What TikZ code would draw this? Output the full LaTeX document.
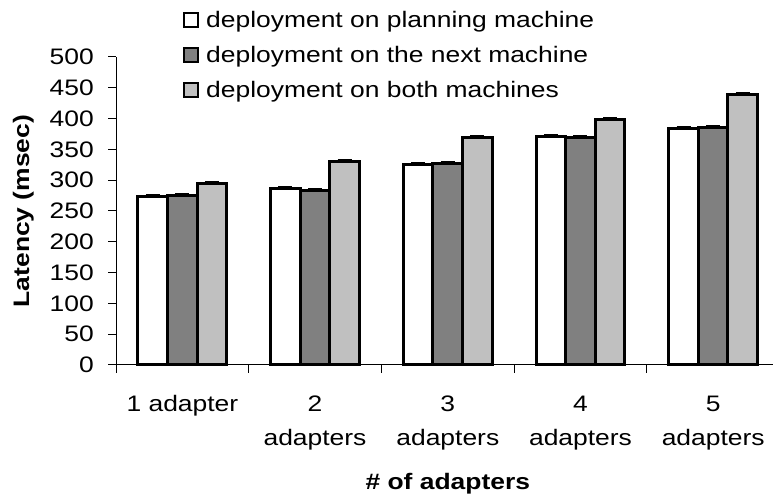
\documentclass[tikz,border=0pt]{standalone}
\usepackage{fontspec}
\setmainfont[FakeStretch=1.18]{Liberation Sans}
\definecolor{darkbar}{HTML}{808080}
\definecolor{lightbar}{HTML}{C0C0C0}

\begin{document}
\begin{tikzpicture}[x=1pt,y=1pt,
  font=\fontsize{22.4}{34}\selectfont,
  bar/.style={draw=black,line width=3pt},
  whisker/.style={line width=2pt},
  axis/.style={line width=1pt},
  key/.style={draw=black,line width=2.5pt,minimum size=14pt,inner sep=0pt},
  catlabel/.style={align=center,anchor=base,inner sep=0pt}]
\useasboundingbox (0,0) rectangle (773,497);

% axes
\draw[axis] (116,132) -- (116,440);
\draw[axis] (116,132) -- (773,132);
\foreach \v in {0,50,...,500} {
  \draw[axis] (108,{132+0.616*\v}) -- (116,{132+0.616*\v});
  \node (y\v) at (94,{132+0.616*\v}) [anchor=east,inner sep=0pt] {\v};
}
\foreach \i in {0,...,4}
  \draw[axis] ({116+132.7*\i},132) -- ({116+132.7*\i},124);

% bars
\foreach \g/\a/\b/\c in {1/274/275/294,2/286/284/331,3/325/327/370,4/371/369/399,5/384/385/439} {
  \pgfmathsetmacro\cx{116+132.7*(\g-0.5)}
  \draw[bar,fill=white]    (\cx-44.4,132) rectangle (\cx-14.8,{132+0.616*\a});
  \draw[bar,fill=darkbar]  (\cx-14.8,132) rectangle (\cx+14.8,{132+0.616*\b});
  \draw[bar,fill=lightbar] (\cx+14.8,132) rectangle (\cx+44.4,{132+0.616*\c});
  \draw[whisker] (\cx-36.6,{133.5+0.616*\a}) -- (\cx-22.6,{133.5+0.616*\a});
  \draw[whisker] (\cx-7,{133.5+0.616*\b}) -- (\cx+7,{133.5+0.616*\b});
  \draw[whisker] (\cx+22.6,{133.5+0.616*\c}) -- (\cx+36.6,{133.5+0.616*\c});
}

% category labels
\node (cat1) at (182.4,85) [catlabel] {1 adapter};
\node (cat2) at (315.0,51) [catlabel] {2\\adapters};
\node (cat3) at (447.8,51) [catlabel] {3\\adapters};
\node (cat4) at (580.5,51) [catlabel] {4\\adapters};
\node (cat5) at (713.2,51) [catlabel] {5\\adapters};

% axis titles
\node (xtitle) at (447.8,7) [anchor=base,inner sep=0pt] {\bfseries \# of adapters};
\node (ytitle) at (29,286) [anchor=base,rotate=90,inner sep=0pt] {\bfseries Latency (msec)};

% legend
\node (key1) at (191,477) [key,fill=white] {};
\node (key2) at (191,442) [key,fill=darkbar] {};
\node (key3) at (191,407) [key,fill=lightbar] {};
\node (text1) at (206,469) [anchor=base west,inner sep=0pt] {deployment on planning machine};
\node (text2) at (206,434) [anchor=base west,inner sep=0pt] {deployment on the next machine};
\node (text3) at (206,399) [anchor=base west,inner sep=0pt] {deployment on both machines};
\end{tikzpicture}
\end{document}
